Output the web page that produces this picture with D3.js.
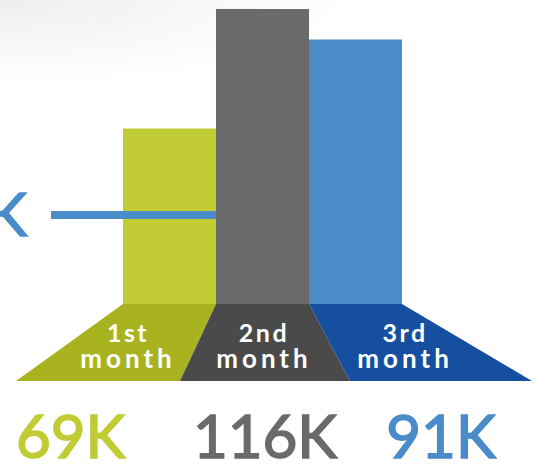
<!DOCTYPE html>
<html>
<head>
<meta charset="utf-8">
<script src="https://cdn.jsdelivr.net/npm/d3@7/dist/d3.min.js"></script>
<style>
  html, body { margin: 0; padding: 0; background: #fff; overflow: hidden; }
  svg { display: block; }
  text { font-family: Lato, "Open Sans", sans-serif; }
</style>
</head>
<body>
<svg id="chart" width="539" height="464"></svg>
<script>
// ---- data ----
const categories = ["1st month", "2nd month", "3rd month"];
const ordinals   = ["1st", "2nd", "3rd"];
const valuesK    = [69, 116, 91];          // printed totals (K)
const barLevelsK = [69, 116, 104];         // bar heights as drawn (K)
const benchmarkK = 35;                     // horizontal reference line (K)
const barColors   = ["#c1cb33", "#6a6a6a", "#4a8bc8"];
const baseColors  = ["#a9b320", "#4a4a4a", "#164ea0"];
const valueColors = ["#c1cb33", "#6a6a6a", "#4a8cc9"];

const W = 539, H = 464;
const svg = d3.select("#chart");

// background soft shadow
const defs = svg.append("defs");
const bg = defs.append("radialGradient").attr("id", "bgshade")
  .attr("cx", "0").attr("cy", "0").attr("r", "0.4")
  .attr("gradientTransform", "scale(1.6,0.45)");
bg.append("stop").attr("offset", "0%").attr("stop-color", "#eeeeee");
bg.append("stop").attr("offset", "100%").attr("stop-color", "#ffffff");
svg.append("rect").attr("width", W).attr("height", H).attr("fill", "url(#bgshade)");

// scales
const baseTop = 304, baseBottom = 381;
const x = d3.scaleBand().domain(categories).range([123, 402]).padding(0);
const y = d3.scaleLinear().domain([0, 116]).range([baseTop, 9]);
const edgesTop = [x.range()[0], ...categories.map(c => x(c) + x.bandwidth())];
const spread = d3.scaleLinear().domain(edgesTop).range([16, 180, 350, 532]);

function drawBars(g, idx) {
  g.selectAll("rect").data(idx).join("rect")
    .attr("x", i => x(categories[i]))
    .attr("y", i => y(barLevelsK[i]))
    .attr("width", x.bandwidth())
    .attr("height", i => y(0) - y(barLevelsK[i]))
    .attr("fill", i => barColors[i]);
}

// 1st bar, then benchmark line over it, then 2nd & 3rd bars
drawBars(svg.append("g"), [0]);
svg.append("line")
  .attr("x1", 51).attr("x2", x(categories[1]))
  .attr("y1", y(benchmarkK)).attr("y2", y(benchmarkK))
  .attr("stroke", "#4a8cc9").attr("stroke-width", 8);
svg.append("text")
  .attr("x", 27).attr("y", y(benchmarkK) + 21)
  .attr("text-anchor", "end")
  .attr("font-size", 60).attr("fill", "#4a8cc9")
  .attr("stroke", "#4a8cc9").attr("stroke-width", 1.6)
  .text(benchmarkK + "K");
drawBars(svg.append("g"), [1, 2]);

// trapezoid bases
const bases = svg.append("g");
categories.forEach((c, i) => {
  const tl = x(c), tr = x(c) + x.bandwidth();
  const bl = spread(tl), br = spread(tr);
  bases.append("path")
    .attr("d", `M${tl},${baseTop}L${tr},${baseTop}L${br},${baseBottom}L${bl},${baseBottom}Z`)
    .attr("fill", baseColors[i]);
  const topC = (tl + tr) / 2, botC = (bl + br) / 2;
  const lx = topC + (botC - topC) * 0.58;
  bases.append("text")
    .attr("x", lx).attr("y", 342)
    .attr("text-anchor", "middle").attr("fill", "#fff")
    .attr("font-weight", 700).attr("font-size", 25).attr("letter-spacing", 2.5)
    .text(ordinals[i]);
  bases.append("text")
    .attr("x", lx).attr("y", 368)
    .attr("text-anchor", "middle").attr("fill", "#fff")
    .attr("font-weight", 700).attr("font-size", 26).attr("letter-spacing", 4)
    .text("month");
});

// value labels
categories.forEach((c, i) => {
  const tl = x(c), tr = x(c) + x.bandwidth();
  const bl = spread(tl), br = spread(tr);
  const isFirst = i === 0;
  svg.append("text")
    .attr("x", isFirst ? bl : (bl + br) / 2)
    .attr("y", 458)
    .attr("text-anchor", isFirst ? "start" : "middle")
    .attr("font-size", 60)
    .attr("fill", valueColors[i])
    .attr("stroke", valueColors[i]).attr("stroke-width", 1.6)
    .text(valuesK[i] + "K");
});
</script>
</body>
</html>
